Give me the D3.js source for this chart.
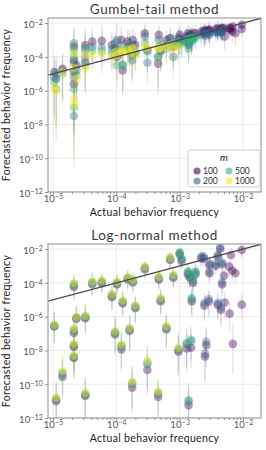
<!DOCTYPE html>
<html>
<head>
<meta charset="utf-8">
<script src="https://cdn.jsdelivr.net/npm/d3@7"></script>
<style>
  body { margin: 0; background: #fff; }
  text { font-family: Lato, "DejaVu Sans", sans-serif; }
</style>
</head>
<body>
<script>
// chart size
var svgWidth = 266;
var svgHeight = 450;

// sample sizes m (legend) and colours
var mValues = ["100", "200", "500", "1000"];
var mColors = ["#440154", "#31688e", "#35b779", "#fde725"];

// tick labels (log10 exponents)
var xTickExp = [-5, -4, -3, -2];
var yTickExp = [-2, -4, -6, -8, -10, -12];

// actual behavior frequency, log10
var actualLog = [-4.98, -4.95, -4.85, -4.67, -4.67, -4.67, -4.67, -4.63, -4.49, -4.49,
  -4.38, -4.23, -4.07, -4.02, -3.99, -3.92, -3.90, -3.82, -3.79, -3.75,
  -3.74, -3.70, -3.55, -3.51, -3.34, -3.33, -3.30, -3.21, -3.15, -3.10,
  -3.02, -3.00, -2.97, -2.89, -2.87, -2.86, -2.84, -2.82, -2.81, -2.79,
  -2.75, -2.66, -2.62, -2.61, -2.60, -2.58, -2.54, -2.53, -2.53, -2.43,
  -2.40, -2.40, -2.36, -2.35, -2.33, -2.33, -2.30, -2.29, -2.22, -2.21,
  -2.19, -2.17, -2.16, -2.12, -2.02, -2.02];

// Gumbel-tail forecasts, log10 (null = not forecast for that m)
var gumbel100 = [-4.9, -5.3, -4.7, -3.4, -4.2, -4.9, -5.6, -4.5, -3.3, -4.3,
  -3.1, -3.05, -3.3, -3.5, -4.0, -3.0, -4.8, -3.1, -3.4, -3.9,
  -3.0, -3.3, -2.6, -3.6, -4.4, -2.7, -3.6, -3.0, -2.9, -3.4,
  -2.9, -2.7, -3.0, -2.8, -2.6, -3.3, -2.7, -2.8, -2.9, -2.6,
  -2.6, -2.5, -2.45, -2.6, -2.5, -2.45, -2.4, -2.4, -2.5, -2.35,
  -2.5, -2.3, -2.4, -2.35, -2.3, -2.5, -2.3, -2.8, -2.3, -2.4,
  -2.3, -2.5, -2.2, -2.6, -2.1, -2.35];
var gumbel200 = [-5.2, -5.0, -4.8, -3.2, -4.35, -5.2, -7.5, -4.8, -3.5, -4.0,
  -3.4, -3.45, -3.55, -3.2, -3.0, -3.3, -4.5, -3.4, -3.2, -4.2,
  -3.3, -3.7, -2.8, -4.35, -4.0, -3.0, -3.7, -3.3, -2.9, -4.0,
  -3.0, -3.0, -3.1, -2.9, -3.0, -3.2, -2.9, -2.9, -3.0, -2.8,
  -2.8, -2.7, -2.6, -2.65, -2.75, -2.6, -2.55, -2.7, -2.6, -2.55,
  -2.5, -2.6, -2.5, -2.45, -2.55, -2.4, null, null, null, null,
  null, null, null, null, null, null];
var gumbel500 = [-5.5, -5.9, -5.0, -3.6, -4.0, -5.9, -7.0, -5.1, -3.6, -4.5,
  -3.6, -3.7, -3.8, -3.7, -4.5, -3.6, -4.45, -3.5, -3.7, -3.8,
  -3.75, -3.8, -3.2, -3.7, -4.0, -3.4, -3.4, -3.5, -3.3, -3.2,
  -3.3, -3.1, -3.2, -3.0, -3.05, -3.5, -2.9, -3.1, -2.85, -2.95,
  -2.9, null, null, null, null, null, null, null, null, null,
  null, null, null, null, null, null, null, null, null, null,
  null, null, null, null, null, null];
var gumbel1000 = [-5.8, -6.05, -4.9, -3.8, -4.65, -6.5, -6.8, -5.3, -3.9, -4.7,
  -3.9, -3.8, -4.0, -3.75, -3.9, -3.7, -3.6, -3.6, -3.8, -3.5,
  -3.55, -3.9, -3.4, -3.45, -3.5, -3.45, -3.5, -3.4, -3.3, -3.55,
  -3.4, null, null, null, null, null, null, null, null, null,
  null, null, null, null, null, null, null, null, null, null,
  null, null, null, null, null, null, null, null, null, null,
  null, null, null, null, null, null];
// Gumbel-tail interval below / above the forecast, decades
var gumbelErrLo = [2.5, 3.0, 1.8, 1.5, 2.0, 3.5, 3.0, 2.0, 1.5, 1.8,
  1.2, 1.3, 1.2, 1.0, 1.4, 1.1, 1.5, 1.0, 1.2, 1.4,
  1.0, 1.1, 0.9, 1.3, 1.8, 1.0, 1.2, 1.0, 0.9, 1.3,
  1.0, 0.8, 0.9, 0.8, 0.8, 1.0, 0.7, 0.8, 0.9, 0.7,
  0.7, 0.7, 0.6, 0.7, 0.8, 0.6, 0.6, 0.7, 0.6, 0.6,
  0.5, 0.6, 0.5, 0.6, 0.5, 0.6, 0.5, 0.8, 0.5, 0.6,
  0.5, 0.6, 0.4, 0.7, 0.4, 0.5];
var gumbelErrHi = [1.0, 1.1, 0.9, 1.0, 0.9, 1.0, 1.2, 0.9, 0.9, 0.8,
  0.8, 0.9, 0.8, 0.7, 0.9, 0.8, 0.9, 0.7, 0.8, 0.8,
  0.7, 0.7, 0.6, 0.8, 0.9, 0.6, 0.7, 0.6, 0.6, 0.8,
  0.6, 0.5, 0.6, 0.5, 0.5, 0.6, 0.5, 0.5, 0.6, 0.5,
  0.5, 0.5, 0.4, 0.5, 0.5, 0.4, 0.4, 0.5, 0.4, 0.4,
  0.4, 0.4, 0.3, 0.4, 0.3, 0.4, 0.3, 0.5, 0.3, 0.4,
  0.3, 0.4, 0.3, 0.4, 0.3, 0.3];

// Log-normal forecasts, log10
var lognorm100 = [-6.58, -11.00, -9.57, -4.24, -6.96, -7.80, -8.45, -6.12, -6.10, -10.70,
  -4.08, -4.02, -4.85, -7.06, -4.10, -7.94, -5.22, -3.80, -6.85, -10.20,
  -3.98, -5.50, -3.20, -9.16, -10.75, -3.82, -5.10, -6.76, -2.65, -3.70,
  -8.08, -2.32, -2.70, -7.88, -3.50, -11.24, -3.70, -7.84, -5.10, -4.00,
  -3.50, -2.55, -2.55, -5.35, -8.35, -7.69, -5.10, -2.95, -3.45, -3.00,
  -2.45, -5.30, -2.00, -5.60, -2.90, -4.10, -3.57, -5.16, -3.04, -5.82,
  -2.35, -3.28, -7.61, -3.43, -2.06, -5.29];
var lognorm200 = [-6.55, -10.92, -9.40, -4.12, -6.83, -7.72, -8.40, -6.08, -6.03, -10.62,
  -4.00, -3.95, -4.76, -6.95, -4.03, -7.76, -5.13, -3.73, -6.76, -9.97,
  -3.90, -5.42, -3.12, -8.82, -10.58, -3.72, -5.00, -6.66, -2.57, -3.62,
  -7.96, -2.24, -2.60, -7.62, -3.38, -11.02, -3.58, -7.45, -4.96, -3.88,
  -3.38, -2.45, -2.45, -5.19, -8.19, -7.49, -4.96, -2.84, -3.33, -2.88,
  -2.35, -5.19, -1.90, -5.45, -2.80, -3.96, null, null, null, null,
  null, null, null, null, null, null];
var lognorm500 = [-6.50, -10.85, -9.30, -4.05, -6.76, -7.65, -8.33, -6.04, -5.98, -10.56,
  -3.96, -3.90, -4.70, -6.90, -3.98, -7.70, -5.08, -3.69, -6.71, -9.90,
  -3.86, -5.37, -3.08, -8.70, -10.50, -3.67, -4.95, -6.60, -2.53, -3.57,
  -7.90, -2.19, -2.55, -7.55, -3.33, -10.94, -3.53, -7.35, -4.90, -3.82,
  -3.33, null, null, null, null, null, null, null, null, null,
  null, null, null, null, null, null, null, null, null, null,
  null, null, null, null, null, null];
var lognorm1000 = [-6.47, -10.78, -9.22, -4.00, -6.70, -7.59, -8.28, -6.00, -5.94, -10.49,
  -3.92, -3.86, -4.65, -6.86, -3.94, -7.65, -5.04, -3.65, -6.67, -9.84,
  -3.82, -5.33, -3.04, -8.59, -10.43, -3.63, -4.90, -6.55, -2.49, -3.53,
  -7.84, null, null, null, null, null, null, null, null, null,
  null, null, null, null, null, null, null, null, null, null,
  null, null, null, null, null, null, null, null, null, null,
  null, null, null, null, null, null];
var lognormErrLo = [1.0, 1.5, 1.3, 0.8, 1.0, 1.5, 1.2, 1.0, 0.9, 1.5,
  0.7, 0.6, 0.8, 1.2, 0.6, 1.3, 0.8, 0.6, 1.2, 1.5,
  0.6, 0.9, 0.5, 1.5, 1.2, 0.6, 0.8, 1.1, 0.5, 0.6,
  1.4, 0.4, 0.5, 1.4, 0.6, 1.5, 0.6, 1.2, 0.9, 0.7,
  0.6, 0.5, 0.5, 0.9, 1.5, 1.3, 0.9, 0.5, 0.6, 0.5,
  0.5, 0.9, 0.4, 1.0, 0.5, 0.7, 0.6, 0.9, 0.6, 1.0,
  0.5, 0.6, 1.8, 0.6, 0.5, 0.9];
var lognormErrHi = [0.8, 1.0, 1.0, 0.6, 0.8, 1.0, 0.9, 0.7, 0.7, 1.0,
  0.6, 0.5, 0.6, 0.9, 0.5, 0.9, 0.6, 0.5, 0.8, 1.0,
  0.5, 0.6, 0.4, 1.0, 0.8, 0.5, 0.6, 0.8, 0.4, 0.5,
  0.9, 0.3, 0.4, 0.9, 0.5, 1.0, 0.5, 0.8, 0.6, 0.5,
  0.5, 0.4, 0.4, 0.6, 1.0, 0.9, 0.6, 0.4, 0.5, 0.4,
  0.4, 0.6, 0.3, 0.7, 0.4, 0.5, 0.4, 0.6, 0.4, 0.7,
  0.4, 0.4, 1.2, 0.4, 0.4, 0.6];

var panels = [
  { title: "Gumbel-tail method", top: 18, bottom: 192,
    series: [gumbel100, gumbel200, gumbel500, gumbel1000],
    errLo: gumbelErrLo, errHi: gumbelErrHi, legend: true },
  { title: "Log-normal method", top: 244, bottom: 418,
    series: [lognorm100, lognorm200, lognorm500, lognorm1000],
    errLo: lognormErrLo, errHi: lognormErrHi, legend: false }
];

var plotLeft = 48;
var plotRight = 261;

var svg = d3.select("body")
  .append("svg")
  .attr("width", svgWidth)
  .attr("height", svgHeight);

// writes 10 with a superscript exponent into a text selection
function powerLabel(sel, exp) {
  sel.text("");
  sel.append("tspan").text("10");
  sel.append("tspan")
    .attr("dy", "-0.45em")
    .attr("font-size", "0.72em")
    .text("\u2212" + Math.abs(exp));
}

function drawPanel(p, idx) {
  var x = d3.scaleLog()
    .domain([Math.pow(10, -5.079), Math.pow(10, -1.716)])
    .range([plotLeft, plotRight]);
  var y = d3.scaleLog()
    .domain([1e-12, Math.pow(10, -1.70)])
    .range([p.bottom, p.top]);

  var g = svg.append("g");

  // grid
  g.selectAll(".gx").data(xTickExp).enter().append("line")
    .attr("x1", d => x(Math.pow(10, d))).attr("x2", d => x(Math.pow(10, d)))
    .attr("y1", p.top).attr("y2", p.bottom)
    .attr("stroke", "#e4e4e4").attr("stroke-width", 0.8);
  g.selectAll(".gy").data(yTickExp).enter().append("line")
    .attr("x1", plotLeft).attr("x2", plotRight)
    .attr("y1", d => y(Math.pow(10, d))).attr("y2", d => y(Math.pow(10, d)))
    .attr("stroke", "#e4e4e4").attr("stroke-width", 0.8);

  // clip
  var clipId = "clip" + idx;
  svg.append("clipPath").attr("id", clipId)
    .append("rect")
    .attr("x", plotLeft).attr("y", p.top)
    .attr("width", plotRight - plotLeft).attr("height", p.bottom - p.top);

  var marks = g.append("g").attr("clip-path", "url(#" + clipId + ")");

  // one layer per m: interval lines then points
  p.series.forEach(function(vals, k) {
    var rows = actualLog.map(function(a, i) {
      return { a: a, f: vals[i], lo: p.errLo[i], hi: p.errHi[i] };
    }).filter(d => d.f !== null);

    var layer = marks.append("g");
    layer.selectAll("line").data(rows).enter().append("line")
      .attr("x1", d => x(Math.pow(10, d.a)))
      .attr("x2", d => x(Math.pow(10, d.a)))
      .attr("y1", d => y(Math.pow(10, d.f - d.lo)))
      .attr("y2", d => y(Math.pow(10, d.f + d.hi)))
      .attr("stroke", mColors[k])
      .attr("stroke-opacity", 0.13)
      .attr("stroke-width", 1.3);
    layer.selectAll("circle").data(rows).enter().append("circle")
      .attr("cx", d => x(Math.pow(10, d.a)))
      .attr("cy", d => y(Math.pow(10, d.f)))
      .attr("r", 4.3)
      .attr("fill", mColors[k])
      .attr("fill-opacity", 0.4);
  });

  // y = x reference line
  var dom = x.domain();
  marks.append("line")
    .attr("x1", x(dom[0])).attr("y1", y(dom[0]))
    .attr("x2", x(dom[1])).attr("y2", y(dom[1]))
    .attr("stroke", "#4a4a4a").attr("stroke-width", 1.3);

  // frame
  g.append("rect")
    .attr("x", plotLeft).attr("y", p.top)
    .attr("width", plotRight - plotLeft).attr("height", p.bottom - p.top)
    .attr("fill", "none").attr("stroke", "#8f8f8f").attr("stroke-width", 1);

  // x axis with minor ticks
  var minor = [];
  [-6, -5, -4, -3, -2].forEach(function(e) {
    for (var m = 2; m <= 9; m++) minor.push(m * Math.pow(10, e));
  });
  minor = minor.filter(v => v > dom[0] && v < dom[1]);

  var xMinor = g.append("g")
    .attr("transform", `translate(0, ${p.bottom})`)
    .call(d3.axisBottom(x).tickValues(minor).tickSize(2).tickFormat(""));
  var xAxis = g.append("g")
    .attr("transform", `translate(0, ${p.bottom})`)
    .call(d3.axisBottom(x).tickValues(xTickExp.map(e => Math.pow(10, e))).tickSize(3).tickPadding(1.5));
  [xMinor, xAxis].forEach(function(a) {
    a.select(".domain").remove();
    a.selectAll("line").attr("stroke", "#8f8f8f");
  });
  xAxis.selectAll("text")
    .attr("fill", "#555").attr("font-size", 9.5).attr("dy", "0.55em")
    .attr("letter-spacing", 0.2)
    .each(function(d) { powerLabel(d3.select(this), Math.round(Math.log10(d))); });

  var yAxis = g.append("g")
    .attr("transform", `translate(${plotLeft}, 0)`)
    .call(d3.axisLeft(y).tickValues(yTickExp.map(e => Math.pow(10, e))).tickSize(3).tickPadding(2));
  yAxis.select(".domain").remove();
  yAxis.selectAll("line").attr("stroke", "#8f8f8f");
  yAxis.selectAll("text")
    .attr("fill", "#555").attr("font-size", 9.5).attr("dy", "0.45em")
    .attr("letter-spacing", 0.2)
    .each(function(d) { powerLabel(d3.select(this), Math.round(Math.log10(d))); });

  // titles
  g.append("text")
    .attr("x", (plotLeft + plotRight) / 2).attr("y", p.top - 4)
    .attr("text-anchor", "middle")
    .attr("font-size", 13.5).attr("letter-spacing", 0.6).attr("fill", "#3a3a3a")
    .text(p.title);
  g.append("text")
    .attr("x", (plotLeft + plotRight) / 2).attr("y", p.bottom + 23.5)
    .attr("text-anchor", "middle")
    .attr("font-size", 10.5).attr("letter-spacing", 0.35).attr("fill", "#222")
    .text("Actual behavior frequency");
  g.append("text")
    .attr("transform", `translate(10, ${(p.top + p.bottom) / 2}) rotate(-90)`)
    .attr("text-anchor", "middle")
    .attr("font-size", 10.5).attr("letter-spacing", 0.35).attr("fill", "#222")
    .text("Forecasted behavior frequency");

  if (p.legend) {
    var lg = g.append("g").attr("transform", "translate(188, 150)");
    lg.append("rect")
      .attr("width", 72).attr("height", 37).attr("rx", 2)
      .attr("fill", "#fff").attr("fill-opacity", 0.9)
      .attr("stroke", "#d0d0d0");
    lg.append("text")
      .attr("x", 36).attr("y", 11)
      .attr("text-anchor", "middle")
      .attr("font-size", 10).attr("font-style", "italic").attr("fill", "#222")
      .text("m");
    mValues.forEach(function(m, k) {
      // order in legend: 100, 500 top row; 200, 1000 bottom row
      var cx = k < 2 ? 9 : 41;
      var cy = k % 2 === 0 ? 21 : 31;
      lg.append("circle")
        .attr("cx", cx).attr("cy", cy).attr("r", 3.6)
        .attr("fill", mColors[k]).attr("fill-opacity", 0.6);
      lg.append("text")
        .attr("x", cx + 6).attr("y", cy + 3)
        .attr("font-size", 8.5).attr("fill", "#333")
        .text(m);
    });
  }
}

panels.forEach(drawPanel);
</script>
</body>
</html>
